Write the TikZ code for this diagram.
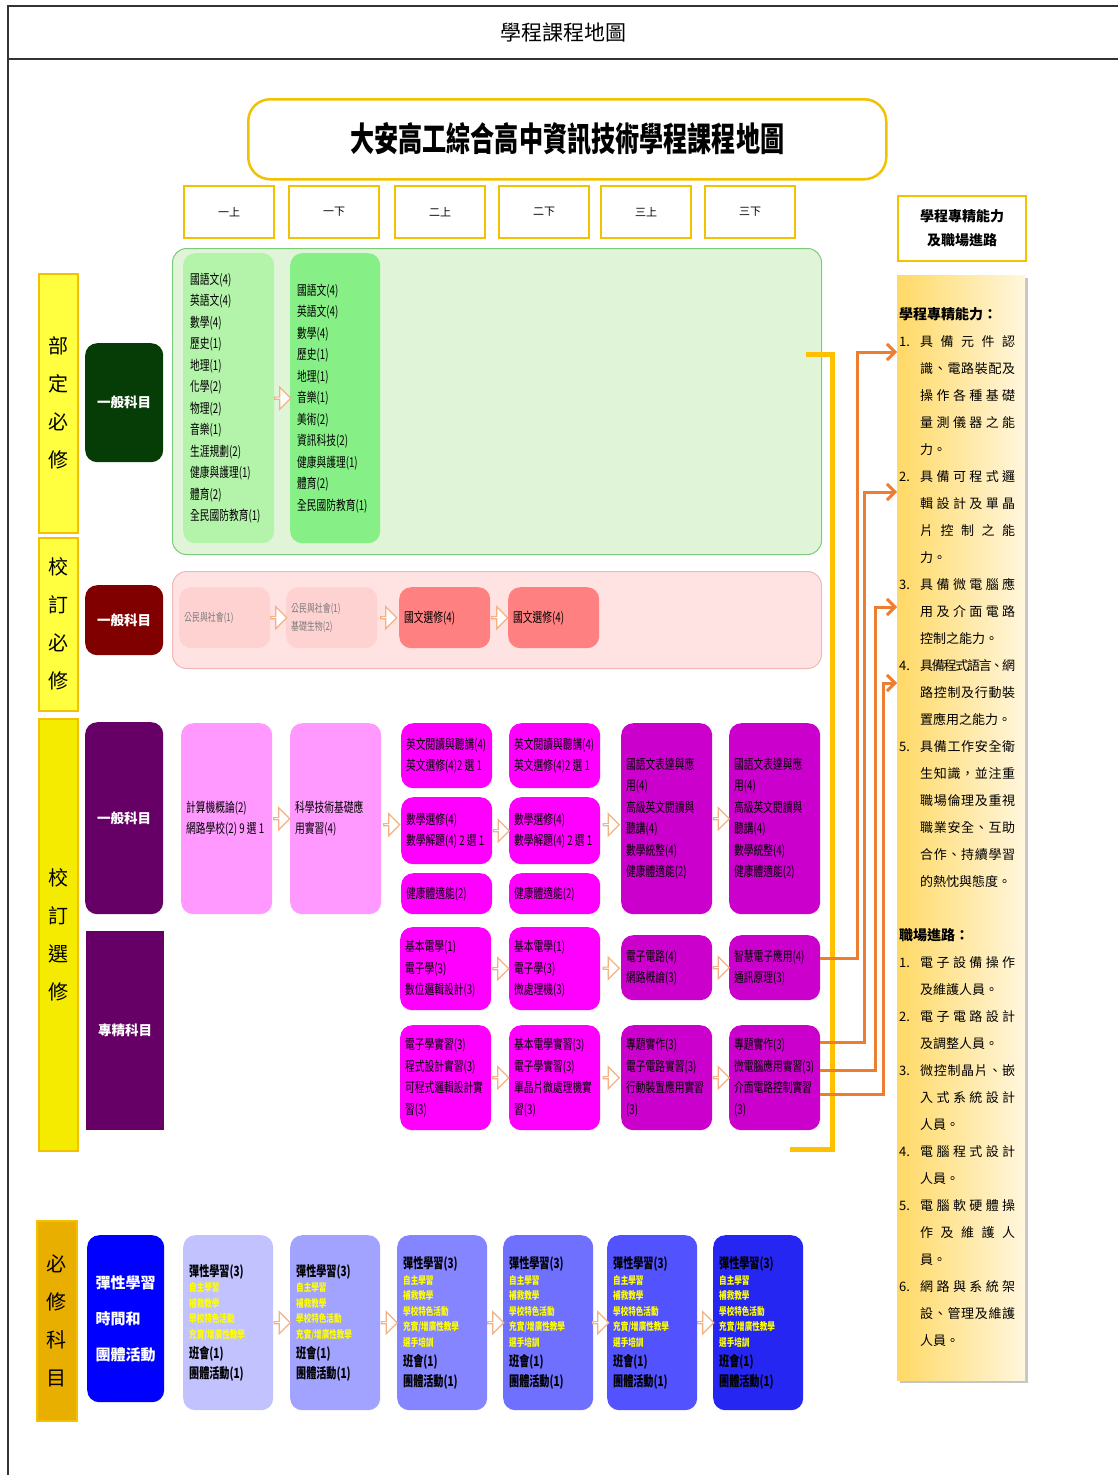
\documentclass[tikz,border=0pt]{standalone}
\usepackage{fontspec}
\setmainfont{Noto Sans CJK TC}
\newfontfamily\etroit[FakeStretch=0.72]{Noto Sans CJK TC}
\usetikzlibrary{calc,shapes.arrows,arrows.meta,shadows}

\definecolor{traitcadre}{HTML}{333333}
\definecolor{dore}{HTML}{F2C200}
\definecolor{jaunevif}{HTML}{FFFF40}
\definecolor{jauneterne}{HTML}{F5EB00}
\definecolor{jauneor}{HTML}{E8AE00}
\definecolor{vertfond}{HTML}{E0F4D8}
\definecolor{vertbord}{HTML}{7CCB7C}
\definecolor{vertclair}{HTML}{B4F3AA}
\definecolor{vertvif}{HTML}{86F086}
\definecolor{vertfonce}{HTML}{063D06}
\definecolor{rosefond}{HTML}{FFE2E2}
\definecolor{rosebord}{HTML}{F2B8B8}
\definecolor{rosepale}{HTML}{FFD2D2}
\definecolor{saumon}{HTML}{FF8080}
\definecolor{bordeaux}{HTML}{800000}
\definecolor{roseclair}{HTML}{FF99FF}
\definecolor{fuchsia}{HTML}{FF00FF}
\definecolor{pourpre}{HTML}{CC00CC}
\definecolor{prune}{HTML}{660066}
\definecolor{bleuvif}{HTML}{0000FF}
\definecolor{bleu1}{HTML}{C2C2FF}
\definecolor{bleu2}{HTML}{A2A2FF}
\definecolor{bleu3}{HTML}{8585FF}
\definecolor{bleu4}{HTML}{7070FF}
\definecolor{bleu5}{HTML}{5252FF}
\definecolor{bleu6}{HTML}{2626F2}
\definecolor{flecheor}{HTML}{FFC000}
\definecolor{orangefleche}{HTML}{ED7D31}
\definecolor{orangepale}{HTML}{F4B183}
\definecolor{jaunetexte}{HTML}{FFFF00}
\definecolor{gristexte}{HTML}{7A7A7A}
\definecolor{panneaug}{HTML}{FFD966}
\definecolor{panneaud}{HTML}{FFF6DD}

\tikzstyle{cadre}=[draw=traitcadre, line width=1.6pt]
\tikzstyle{titre}=[rectangle, rounded corners=22pt, draw=dore, line width=2.5pt, fill=white, minimum width=638pt, minimum height=80pt, anchor=north west, font=\etroit\bfseries\fontsize{33.5}{36}\selectfont]
\tikzstyle{semestre}=[rectangle, draw=dore, line width=2pt, fill=white, minimum width=90pt, minimum height=52pt, anchor=north west, font=\fontsize{11}{13}\selectfont]
\tikzstyle{etiquette}=[rectangle, draw=dore, line width=1.5pt, minimum width=39pt, anchor=north west, align=center, font=\fontsize{20}{38}\selectfont]
\tikzstyle{categorie}=[rectangle, rounded corners=12pt, minimum width=78pt, anchor=north west, text=white, align=left, font=\bfseries\fontsize{13.5}{16}\selectfont]
\tikzstyle{zone}=[rectangle, rounded corners=14pt, line width=1pt, minimum width=649pt, anchor=north west]
\tikzstyle{cours}=[rectangle, rounded corners=12pt, text width=81pt, inner xsep=5pt, inner ysep=0pt, anchor=north west, align=left, font=\etroit\fontsize{13.5}{21.5}\selectfont]
\tikzstyle{creux}=[single arrow, draw=orangepale, fill=white, line width=1.2pt, minimum height=16pt, minimum width=22pt, single arrow head extend=5.5pt, inner sep=0pt]
\tikzstyle{fleche}=[draw=orangefleche, line width=3pt, -{Straight Barb[length=8pt,width=16pt]}]
\tikzstyle{accolade}=[draw=flecheor, line width=5pt]
\tikzstyle{entete}=[rectangle, draw=dore, line width=2pt, fill=white, minimum width=128pt, minimum height=65pt, anchor=north west, align=center, font=\bfseries\fontsize{14}{24}\selectfont]
\tikzstyle{panneau}=[rectangle, left color=panneaug, right color=panneaud, minimum width=128pt, minimum height=1105pt, anchor=north west, drop shadow={shadow xshift=3pt, shadow yshift=-3pt, fill=black!45}]
\tikzstyle{competences}=[anchor=north west, inner sep=0pt, align=left, font=\fontsize{13}{27}\selectfont]

% lignes justifiees du panneau
\makeatletter
\newcommand{\etale}[1]{\makebox[95pt][s]{\def\sepcar{}\@tfor\car:=#1\do{\sepcar\car\def\sepcar{\hskip 0pt plus 1fil minus 1fil}}}}
\makeatother
\newcommand{\numero}[1]{\makebox[21pt][l]{#1}}
\newcommand{\retrait}{\hspace*{21pt}}
\newcommand{\rubrique}[1]{{\bfseries\fontsize{14}{27}\selectfont #1}}

% contenu des cases bleues
\newcommand{\noir}[1]{{\bfseries\fontsize{14}{20}\selectfont #1\par}}
\newcommand{\jaune}[1]{{\bfseries\fontsize{10.5}{15.5}\selectfont\color{jaunetexte}#1\par}}
\newcommand{\souple}[1]{\noir{彈性學習(3)}\jaune{自主學習}\jaune{補救教學}\jaune{學校特色活動}\jaune{充實/增廣性教學}\ifnum#1>2 \jaune{選手培訓}\fi\noir{班會(1)}\noir{團體活動(1)}}

\begin{document}
\begin{tikzpicture}[x=1pt,y=-1pt]

 \useasboundingbox (0,0) rectangle (1118,1475);

 % cadre du tableau
 \draw[cadre] (8,1475) -- (8,6) -- (1118,6);
 \draw[cadre] (8,59) -- (1118,59);
 \node[font=\fontsize{21}{24}\selectfont] (entetepage) at (563,32) {學程課程地圖};

 \node[titre] (titre) at (247,98) {大安高工綜合高中資訊技術學程課程地圖};

 \foreach \sem/\x [count=\i] in {一上/183,一下/288,二上/394,二下/498,三上/600,三下/704}
   \node[semestre] (s\i) at (\x,185) {\sem};

 % colonne de gauche
 \node[etiquette, fill=jaunevif, minimum height=259pt] (lab1) at (38,273) {部\\定\\必\\修};
 \node[etiquette, fill=jaunevif, minimum height=173pt] (lab2) at (38,537) {校\\訂\\必\\修};
 \node[etiquette, fill=jauneterne, minimum height=432pt] (lab3) at (38,718) {校\\訂\\選\\修};
 \node[etiquette, fill=jauneor, minimum height=200pt, minimum width=40pt] (lab4) at (36,1220) {必\\修\\科\\目};

 \node[categorie, fill=vertfonce, minimum height=119pt] (cat1) at (85,343) {一般科目};
 \node[categorie, fill=bordeaux, minimum height=70pt] (cat2) at (85,585) {一般科目};
 \node[categorie, fill=prune, minimum height=192pt] (cat3) at (85,722) {一般科目};
 \node[categorie, fill=prune, minimum height=199pt, rounded corners=0pt] (cat4) at (86,931) {專精科目};
 \node[categorie, fill=bleuvif, minimum height=167pt, minimum width=77pt, font=\bfseries\fontsize{15}{36}\selectfont] (cat5) at (87,1235) {彈性學習\\時間和\\團體活動};

 %部定必修
 \node[zone, fill=vertfond, draw=vertbord, minimum height=306pt] (zoneverte) at (172,248) {};
 \node[cours, fill=vertclair, minimum height=290pt, inner xsep=7pt, text width=77pt] (g1) at (183,253) {國語文(4)\\英語文(4)\\數學(4)\\歷史(1)\\地理(1)\\化學(2)\\物理(2)\\音樂(1)\\生涯規劃(2)\\健康與護理(1)\\體育(2)\\全民國防教育(1)};
 \node[cours, fill=vertvif, minimum height=290pt, inner xsep=7pt, text width=76pt] (g2) at (290,253) {國語文(4)\\英語文(4)\\數學(4)\\歷史(1)\\地理(1)\\音樂(1)\\美術(2)\\資訊科技(2)\\健康與護理(1)\\體育(2)\\全民國防教育(1)};
 \node[creux] at ($(g1.east)!.5!(g2.west)$) {};

 % 校訂必修
 \node[zone, fill=rosefond, draw=rosebord, minimum height=97pt] (zonerose) at (172,571) {};
 \node[cours, fill=rosepale, minimum height=61pt, text=gristexte, font=\etroit\fontsize{11}{18}\selectfont] (r1) at (179,587) {公民與社會(1)};
 \node[cours, fill=rosepale, minimum height=61pt, text=gristexte, font=\etroit\fontsize{11}{18}\selectfont] (r2) at (286,587) {公民與社會(1)\\基礎生物(2)};
 \node[cours, fill=saumon, minimum height=61pt] (r3) at (399,587) {國文選修(4)};
 \node[cours, fill=saumon, minimum height=61pt] (r4) at (508,587) {國文選修(4)};
 \node[creux] at ($(r1.east)!.5!(r2.west)$) {};
 \node[creux] at ($(r2.east)!.5!(r3.west)$) {};
 \node[creux] at ($(r3.east)!.5!(r4.west)$) {};

 % 校訂選修 : 一般科目
 \node[cours, fill=roseclair, minimum height=191pt] (a1) at (181,723) {計算機概論(2)\\網路學校(2)\,9\,選\,1};
 \node[cours, fill=roseclair, minimum height=191pt] (a2) at (290,723) {科學技術基礎應\\用實習(4)};
 \foreach \c/\x in {3/401,4/509}{
   \node[cours, fill=fuchsia, minimum height=65pt] (a\c h) at (\x,723) {英文閱讀與聽講(4)\\英文選修(4)2\,選\,1};
   \node[cours, fill=fuchsia, minimum height=67pt] (a\c m) at (\x,797) {數學選修(4)\\數學解題(4)\,2\,選\,1};
   \node[cours, fill=fuchsia, minimum height=41pt] (a\c b) at (\x,873) {健康體適能(2)};
 }
 \foreach \c/\x in {5/621,6/729}
   \node[cours, fill=pourpre, minimum height=191pt] (a\c) at (\x,723) {國語文表達與應\\用(4)\\高級英文閱讀與\\聽講(4)\\數學統整(4)\\健康體適能(2)};
 \node[creux] at ($(a1.east)!.5!(a2.west)$) {};
 \node[creux] at ($(a2.east)!.5!(a3m.west)$) {};
 \node[creux] at ($(a3m.east)!.5!(a4m.west)$) {};
 \node[creux] at ($(a4m.east)!.5!(a5.west)$) {};
 \node[creux] at ($(a5.east)!.5!(a6.west)$) {};

 % 校訂選修 : 專精科目
 \node[cours, fill=fuchsia, minimum height=83pt] (b3) at (400,927) {基本電學(1)\\電子學(3)\\數位邏輯設計(3)};
 \node[cours, fill=fuchsia, minimum height=83pt] (b4) at (509,927) {基本電學(1)\\電子學(3)\\微處理機(3)};
 \node[cours, fill=pourpre, minimum height=65pt] (b5) at (621,935) {電子電路(4)\\網路概論(3)};
 \node[cours, fill=pourpre, minimum height=65pt] (b6) at (729,935) {智慧電子應用(4)\\通訊原理(3)};
 \node[cours, fill=fuchsia, minimum height=105pt] (c3) at (400,1025) {電子學實習(3)\\程式設計實習(3)\\可程式邏輯設計實\\習(3)};
 \node[cours, fill=fuchsia, minimum height=105pt] (c4) at (509,1025) {基本電學實習(3)\\電子學實習(3)\\單晶片微處理機實\\習(3)};
 \node[cours, fill=pourpre, minimum height=105pt] (c5) at (621,1025) {專題實作(3)\\電子電路實習(3)\\行動裝置應用實習\\(3)};
 \node[cours, fill=pourpre, minimum height=105pt] (c6) at (729,1025) {專題實作(3)\\微電腦應用實習(3)\\介面電路控制實習\\(3)};
 \foreach \r in {b,c}{
   \node[creux] at ($(\r3.east)!.5!(\r4.west)$) {};
   \node[creux] at ($(\r4.east)!.5!(\r5.west)$) {};
   \node[creux] at ($(\r5.east)!.5!(\r6.west)$) {};
 }

 % 必修科目
 \foreach \i/\x in {1/183,2/290,3/397,4/503,5/607,6/713}
   \node[cours, fill=bleu\i, minimum height=175pt, inner xsep=6pt, text width=78pt] (d\i) at (\x,1235) {\souple{\i}};
 \foreach \i [evaluate=\i as \j using int(\i+1)] in {1,...,5}
   \node[creux] at ($(d\i.east)!.5!(d\j.west)$) {};

 % panneau de droite
 \node[entete] (entete) at (897,195) {學程專精能力\\及職場進路};
 \node[panneau] (panneau) at (897,275) {};
 \node[competences] (texte) at (899,307) {%
 \rubrique{學程專精能力：}\\
 \numero{1.}\etale{具備元件認}\\
 \retrait\etale{識、電路裝配及}\\
 \retrait\etale{操作各種基礎}\\
 \retrait\etale{量測儀器之能}\\
 \retrait 力。\\
 \numero{2.}\etale{具備可程式邏}\\
 \retrait\etale{輯設計及單晶}\\
 \retrait\etale{片控制之能}\\
 \retrait 力。\\
 \numero{3.}\etale{具備微電腦應}\\
 \retrait\etale{用及介面電路}\\
 \retrait 控制之能力。\\
 \numero{4.}\etale{具備程式語言、網}\\
 \retrait\etale{路控制及行動裝}\\
 \retrait 置應用之能力。\\
 \numero{5.}\etale{具備工作安全衛}\\
 \retrait\etale{生知識，並注重}\\
 \retrait\etale{職場倫理及重視}\\
 \retrait\etale{職業安全、互助}\\
 \retrait\etale{合作、持續學習}\\
 \retrait 的熱忱與態度。\\[27pt]
 \rubrique{職場進路：}\\
 \numero{1.}\etale{電子設備操作}\\
 \retrait 及維護人員。\\
 \numero{2.}\etale{電子電路設計}\\
 \retrait 及調整人員。\\
 \numero{3.}\etale{微控制晶片、嵌}\\
 \retrait\etale{入式系統設計}\\
 \retrait 人員。\\
 \numero{4.}\etale{電腦程式設計}\\
 \retrait 人員。\\
 \numero{5.}\etale{電腦軟硬體操}\\
 \retrait\etale{作及維護人}\\
 \retrait 員。\\
 \numero{6.}\etale{網路與系統架}\\
 \retrait\etale{設、管理及維護}\\
 \retrait 人員。};

 % accolade et fleches
 \draw[accolade] (806,354) -| (832,1149) -- (790,1149);
 \coordinate (cible1) at (897,352);
 \coordinate (cible2) at (897,492);
 \coordinate (cible3) at (897,607);
 \coordinate (cible4) at (897,683);
 \draw[fleche] ([yshift=9pt]b6.east) -- ++(37,0) |- (cible1);
 \draw[fleche] ([yshift=35.5pt]c6.east) -- ++(44,0) |- (cible2);
 \draw[fleche] ([yshift=7.5pt]c6.east) -- ++(55,0) |- (cible3);
 \draw[fleche] ([yshift=-16.5pt]c6.east) -- ++(63,0) |- (cible4);

\end{tikzpicture}
\end{document}
